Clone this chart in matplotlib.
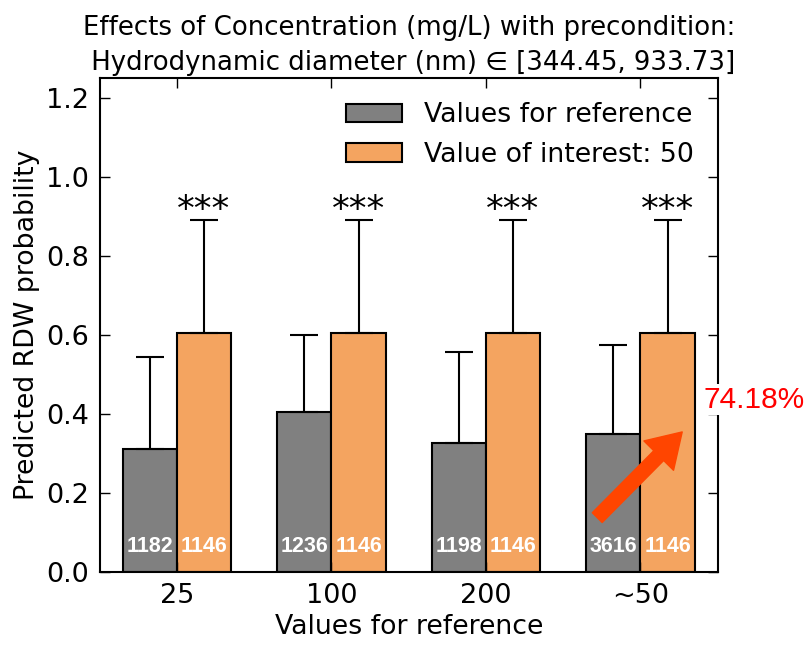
import numpy as np
import matplotlib.pyplot as plt

# data
categories = ['25', '100', '200', '~50']
ref_values = [0.31, 0.405, 0.325, 0.35]
ref_upper = [0.545, 0.60, 0.557, 0.573]
int_values = [0.605, 0.605, 0.605, 0.605]
int_upper = [0.89, 0.89, 0.89, 0.89]
ref_counts = [1182, 1236, 1198, 3616]
int_counts = [1146, 1146, 1146, 1146]
stars = ['***', '***', '***', '***']
change_text = '74.18%'

if __name__ == '__main__':
    x = np.arange(len(categories))
    w = 0.35

    ref_err = np.array(ref_upper) - np.array(ref_values)
    int_err = np.array(int_upper) - np.array(int_values)

    fig, ax = plt.subplots(figsize=(8.11, 6.46), dpi=100)
    fig.subplots_adjust(left=0.123, right=0.885, top=0.879, bottom=0.115)

    ekw = dict(ecolor='black', elinewidth=1.5, capsize=10, capthick=1.5)
    ax.bar(x - w / 2, ref_values, w, color='gray', edgecolor='black', linewidth=1.5,
           label='Values for reference',
           yerr=[np.zeros(len(x)), ref_err], error_kw=ekw)
    ax.bar(x + w / 2, int_values, w, color='sandybrown', edgecolor='black', linewidth=1.5,
           label='Value of interest: 50',
           yerr=[np.zeros(len(x)), int_err], error_kw=ekw)

    # sample counts inside bars, stars above
    for i in range(len(x)):
        ax.text(x[i] - w / 2, 0.063, str(ref_counts[i]), color='white', fontweight='bold',
                fontsize=15.5, family='Liberation Sans', ha='center', va='center')
        ax.text(x[i] + w / 2, 0.063, str(int_counts[i]), color='white', fontweight='bold',
                fontsize=15.5, family='Liberation Sans', ha='center', va='center')
        ax.text(x[i] + w / 2, int_upper[i] - 0.016, stars[i], fontsize=25.5,
                ha='center', va='bottom')

    # arrow + percentage on the last group
    ax.annotate('', xy=(3.27, 0.354), xytext=(2.72, 0.137),
                arrowprops=dict(facecolor='orangered', edgecolor='orangered',
                                width=10, headwidth=30, headlength=24))
    ax.text(3.41, 0.435, change_text, color='red', fontsize=21.5, family='Liberation Sans',
            ha='left', va='center',
            bbox=dict(facecolor='white', edgecolor='none', pad=1), clip_on=False, zorder=5)

    ax.set_xlim(-0.5, 3.5)
    ax.set_ylim(0, 1.25)
    ax.set_xticks(x)
    ax.set_xticklabels(categories)
    ax.set_yticks(np.arange(0, 1.21, 0.2))
    ax.tick_params(direction='in', top=True, right=True, labelsize=19.5, length=7, width=1,
                   pad=8)
    for s in ax.spines.values():
        s.set_linewidth(1.5)

    ax.set_xlabel('Values for reference', fontsize=19.3)
    ax.set_ylabel('Predicted RDW probability', fontsize=19.3)
    ax.set_title('Effects of Concentration (mg/L) with precondition:\n'
                 ' Hydrodynamic diameter (nm) \u2208 [344.45, 933.73]', fontsize=18.7,
                 linespacing=1.45)
    ax.legend(loc='upper right', frameon=False, fontsize=19.3, handlelength=2.1)

    plt.savefig('out.png', dpi=100)
